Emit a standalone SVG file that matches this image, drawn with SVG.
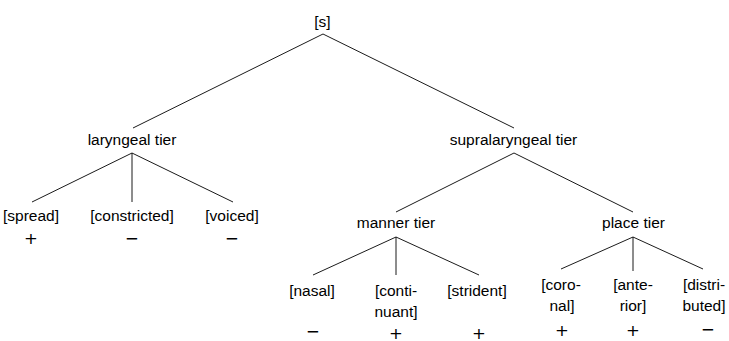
<svg xmlns="http://www.w3.org/2000/svg" width="729" height="341" viewBox="0 0 729 341">
<style>
  text { font-family: "Liberation Sans", Arial, sans-serif; font-size: 15.5px; fill: #000; text-anchor: middle; }
  text.sign { font-family: "DejaVu Sans", sans-serif; font-size: 16.5px; }
  .edges line { stroke: #000; stroke-width: 0.9; fill: none; }
</style>
<rect width="729" height="341" fill="#fff"/>
<g class="edges" id="connectors">
  <line x1="323" y1="34" x2="133" y2="128"/>
  <line x1="323" y1="34" x2="514" y2="128"/>
  <line x1="132" y1="153" x2="32" y2="202"/>
  <line x1="132" y1="153" x2="132" y2="202"/>
  <line x1="132" y1="153" x2="233" y2="202"/>
  <line x1="514" y1="153" x2="396" y2="212"/>
  <line x1="514" y1="153" x2="633" y2="212"/>
  <line x1="396" y1="237" x2="313" y2="275"/>
  <line x1="396" y1="237" x2="396" y2="275"/>
  <line x1="396" y1="237" x2="479" y2="275"/>
  <line x1="633" y1="237" x2="561" y2="269"/>
  <line x1="633" y1="237" x2="633" y2="271"/>
  <line x1="633" y1="237" x2="703" y2="269"/>
</g>
<g id="root"><text x="322.5" y="26.5">[s]</text></g>
<g id="laryngeal"><text x="132" y="145">laryngeal tier</text></g>
<g id="supralaryngeal"><text x="513.5" y="145">supralaryngeal tier</text></g>
<g id="spread"><text x="31" y="221">[spread]</text><text class="sign" x="31" y="244">+</text></g>
<g id="constricted"><text x="132" y="221">[constricted]</text><text class="sign" x="132" y="243.5">−</text></g>
<g id="voiced"><text x="232" y="221">[voiced]</text><text class="sign" x="232" y="243.5">−</text></g>
<g id="manner"><text x="396" y="228">manner tier</text></g>
<g id="place"><text x="633.5" y="228">place tier</text></g>
<g id="nasal"><text x="312" y="296">[nasal]</text><text class="sign" x="313" y="337">−</text></g>
<g id="continuant"><text x="396" y="296">[conti-</text><text x="396" y="317">nuant]</text><text class="sign" x="396" y="338.5">+</text></g>
<g id="strident"><text x="477" y="296">[strident]</text><text class="sign" x="479" y="338.5">+</text></g>
<g id="coronal"><text x="561" y="290">[coro-</text><text x="562" y="311">nal]</text><text class="sign" x="562" y="335.5">+</text></g>
<g id="anterior"><text x="633" y="290">[ante-</text><text x="633" y="311">rior]</text><text class="sign" x="633" y="335.5">+</text></g>
<g id="distributed"><text x="704" y="290">[distri-</text><text x="704" y="311">buted]</text><text class="sign" x="708" y="335">−</text></g>
</svg>
